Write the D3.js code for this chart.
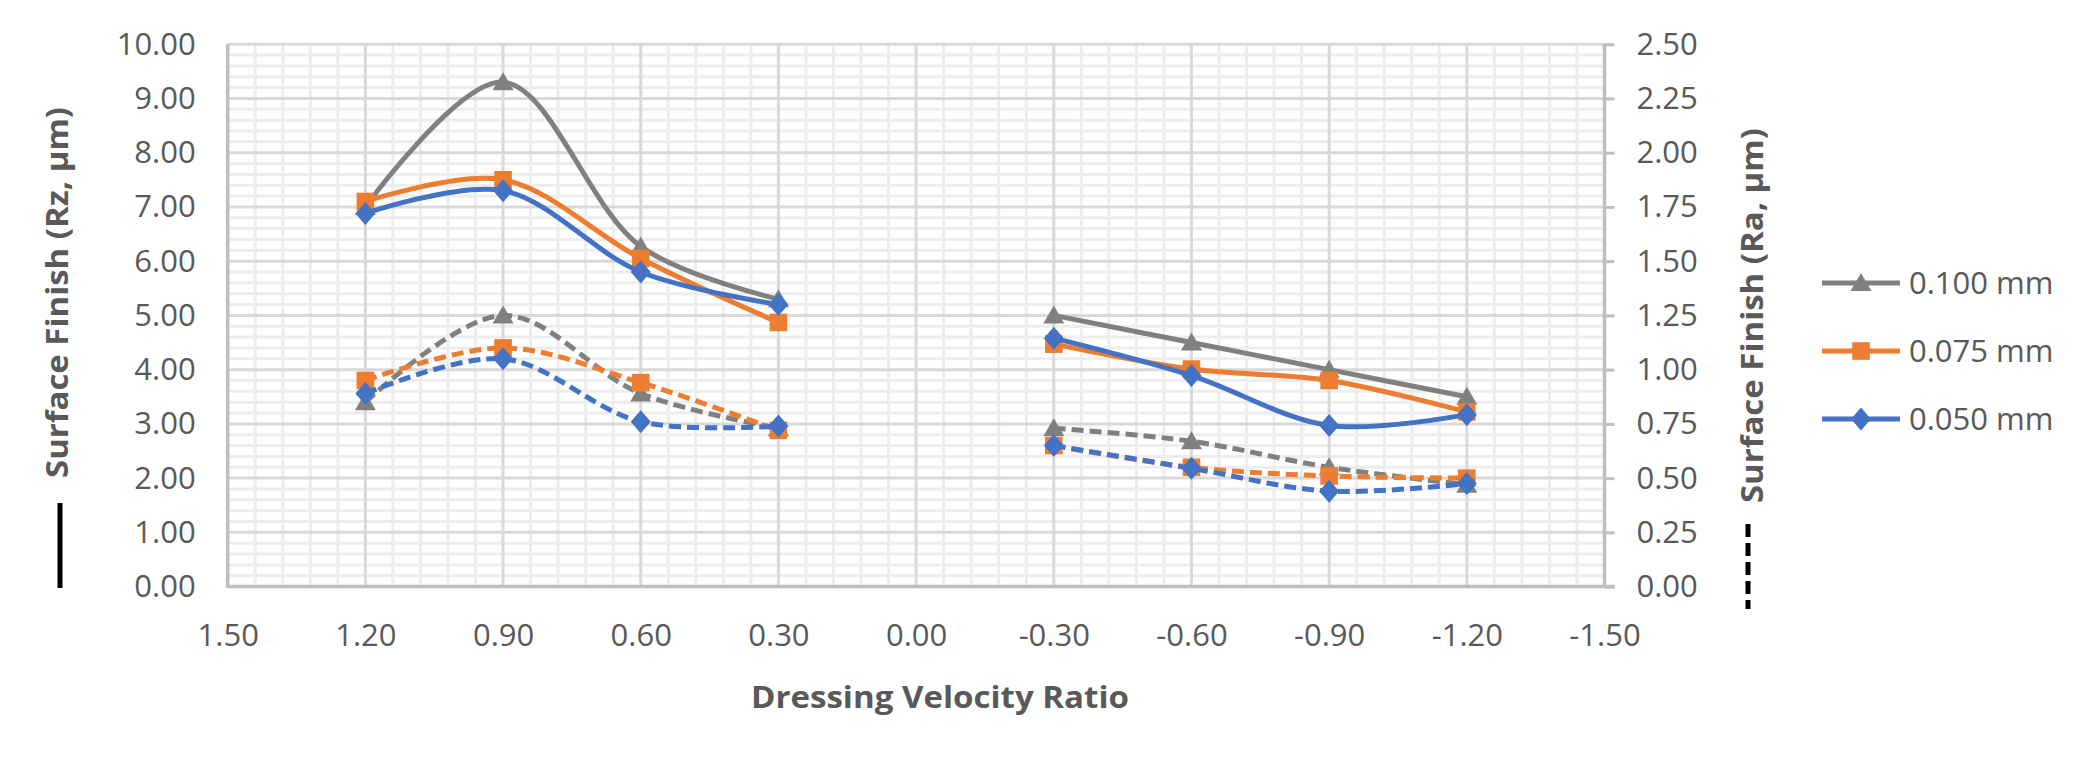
<!DOCTYPE html>
<html><head><meta charset="utf-8">
<script src="https://cdn.jsdelivr.net/npm/d3@7"></script>
<style>html,body{margin:0;padding:0;background:#fff;} svg{display:block;}</style>
</head><body>
<svg id="chart" width="2100" height="759"></svg>
<script>
// ---- data ----
const ratios = [1.2, 0.9, 0.6, 0.3, -0.3, -0.6, -0.9, -1.2];
const seriesNames = ["0.100 mm", "0.075 mm", "0.050 mm"];
const rz100 = [7.0, 9.3, 6.27, 5.3, 5.0, 4.5, 4.0, 3.5];
const rz075 = [7.1, 7.5, 6.05, 4.87, 4.47, 4.01, 3.8, 3.22];
const rz050 = [6.88, 7.3, 5.8, 5.2, 4.58, 3.89, 2.97, 3.17];
const ra100 = [0.85, 1.25, 0.89, 0.73, 0.73, 0.67, 0.55, 0.47];
const ra075 = [0.95, 1.10, 0.94, 0.72, 0.65, 0.55, 0.51, 0.50];
const ra050 = [0.89, 1.05, 0.76, 0.74, 0.65, 0.545, 0.44, 0.475];
const segments = [[0, 1, 2, 3], [4, 5, 6, 7]];
const xTickValues = [1.5, 1.2, 0.9, 0.6, 0.3, 0, -0.3, -0.6, -0.9, -1.2, -1.5];
const xTickLabels = ["1.50","1.20","0.90","0.60","0.30","0.00","-0.30","-0.60","-0.90","-1.20","-1.50"];
const yLeftTicks = [0,1,2,3,4,5,6,7,8,9,10];
const yLeftLabels = ["0.00","1.00","2.00","3.00","4.00","5.00","6.00","7.00","8.00","9.00","10.00"];
const yRightTicks = [0,0.25,0.5,0.75,1,1.25,1.5,1.75,2,2.25,2.5];
const yRightLabels = ["0.00","0.25","0.50","0.75","1.00","1.25","1.50","1.75","2.00","2.25","2.50"];
const xTitle = "Dressing Velocity Ratio";
const yLeftTitle = "Surface Finish (Rz, µm)";
const yRightTitle = "Surface Finish (Ra, µm)";

// ---- layout / style ----
const colors = ["#808080", "#ed7d31", "#4472c4"];
const shapes = ["triangle", "square", "diamond"];
const L = 227.7, R = 1604.5, T = 44.2, B = 586.6;
const FONT = "'Open Sans', 'Noto Sans', sans-serif";
const TXT = "#595959";

const svg = d3.select("#chart");
svg.append("rect").attr("width", 2100).attr("height", 759).attr("fill", "#fff");

const x = d3.scaleLinear().domain([1.5, -1.5]).range([L, R]);
const yL = d3.scaleLinear().domain([0, 10]).range([B, T]);
const yR = d3.scaleLinear().domain([0, 2.5]).range([B, T]);

// grid
const grid = svg.append("g");
const minorH = d3.range(0, 10.0001, 0.2).filter(v => Math.abs(v - Math.round(v)) > 1e-6);
const minorV = d3.range(-1.5, 1.5001, 0.06).filter(v => Math.abs(v / 0.3 - Math.round(v / 0.3)) > 1e-6);
grid.selectAll(".mh").data(minorH).join("line")
  .attr("x1", L).attr("x2", R).attr("y1", d => yL(d)).attr("y2", d => yL(d))
  .attr("stroke", "#ededed").attr("stroke-width", 3);
grid.selectAll(".mv").data(minorV).join("line")
  .attr("y1", T).attr("y2", B).attr("x1", d => x(d)).attr("x2", d => x(d))
  .attr("stroke", "#ededed").attr("stroke-width", 3);
grid.selectAll(".Mh").data(yLeftTicks.filter(d => d > 0)).join("line")
  .attr("x1", L).attr("x2", R).attr("y1", d => yL(d)).attr("y2", d => yL(d))
  .attr("stroke", "#d9d9d9").attr("stroke-width", 3);
grid.selectAll(".Mv").data(xTickValues.filter(d => d !== 1.5 && d !== -1.5)).join("line")
  .attr("y1", T).attr("y2", B).attr("x1", d => x(d)).attr("x2", d => x(d))
  .attr("stroke", "#d9d9d9").attr("stroke-width", 3);

// axes
function styleAxis(g) {
  g.attr("font-family", FONT).attr("font-size", 31);
  g.selectAll("text").attr("fill", TXT);
  g.select(".domain").remove();
}
const gx = svg.append("g").attr("transform", `translate(0,${B})`)
  .call(d3.axisBottom(x).tickValues(xTickValues).tickFormat((d, i) => xTickLabels[i]).tickSize(0).tickPadding(37));
styleAxis(gx);
const gyl = svg.append("g").attr("transform", `translate(${L},0)`)
  .call(d3.axisLeft(yL).tickValues(yLeftTicks).tickFormat((d, i) => yLeftLabels[i]).tickSize(0).tickPadding(32));
styleAxis(gyl);
const gyr = svg.append("g").attr("transform", `translate(${R},0)`)
  .call(d3.axisRight(yR).tickValues(yRightTicks).tickFormat((d, i) => yRightLabels[i]).tickSize(10).tickPadding(22));
styleAxis(gyr);
gyr.selectAll("line").attr("stroke", "#bfbfbf").attr("stroke-width", 3);

// axis lines
svg.append("line").attr("x1", L).attr("x2", L).attr("y1", T).attr("y2", B + 1.5).attr("stroke", "#bfbfbf").attr("stroke-width", 3.5);
svg.append("line").attr("x1", R).attr("x2", R).attr("y1", T).attr("y2", B + 1.5).attr("stroke", "#bfbfbf").attr("stroke-width", 3.5);
svg.append("line").attr("x1", L).attr("x2", R + 10).attr("y1", B).attr("y2", B).attr("stroke", "#bfbfbf").attr("stroke-width", 3.5);

// markers
function markerPath(shape) {
  if (shape === "triangle") return "M0,-10 L10.5,8 L-10.5,8 Z";
  if (shape === "square") return "M-8.8,-8.8 L8.8,-8.8 L8.8,8.8 L-8.8,8.8 Z";
  return "M0,-11.5 L10,0 L0,11.5 L-10,0 Z";
}

const line = d3.line().curve(d3.curveCatmullRom.alpha(0.5));
const plot = svg.append("g");
const allSeries = [
  {vals: rz100, s: 0, scale: yL, dash: null},
  {vals: rz075, s: 1, scale: yL, dash: null},
  {vals: rz050, s: 2, scale: yL, dash: null},
  {vals: ra100, s: 0, scale: yR, dash: "12,6"},
  {vals: ra075, s: 1, scale: yR, dash: "12,6"},
  {vals: ra050, s: 2, scale: yR, dash: "12,6"}
];
allSeries.forEach(ser => {
  const g = plot.append("g");
  segments.forEach(seg => {
    g.append("path")
      .attr("d", line(seg.map(i => [x(ratios[i]), ser.scale(ser.vals[i])])))
      .attr("fill", "none").attr("stroke", colors[ser.s]).attr("stroke-width", 5)
      .attr("stroke-linejoin", "round")
      .attr("stroke-dasharray", ser.dash);
  });
  g.selectAll(".m").data(ratios).join("path")
    .attr("d", markerPath(shapes[ser.s]))
    .attr("transform", (d, i) => `translate(${x(d)},${ser.scale(ser.vals[i])})`)
    .attr("fill", colors[ser.s]);
});

// axis titles
svg.append("text").text(xTitle)
  .attr("x", 940).attr("y", 708).attr("text-anchor", "middle")
  .attr("font-family", FONT).attr("font-weight", 700).attr("font-size", 31)
  .attr("fill", TXT).attr("textLength", 378).attr("lengthAdjust", "spacingAndGlyphs");
svg.append("text").text(yLeftTitle)
  .attr("transform", "translate(68,292.5) rotate(-90)").attr("text-anchor", "middle")
  .attr("font-family", FONT).attr("font-weight", 700).attr("font-size", 31)
  .attr("fill", TXT).attr("textLength", 371).attr("lengthAdjust", "spacingAndGlyphs");
svg.append("text").text(yRightTitle)
  .attr("transform", "translate(1763,315.6) rotate(-90)").attr("text-anchor", "middle")
  .attr("font-family", FONT).attr("font-weight", 700).attr("font-size", 31)
  .attr("fill", TXT).attr("textLength", 375).attr("lengthAdjust", "spacingAndGlyphs");
// line-style keys under the axis titles
svg.append("line").attr("x1", 60).attr("x2", 60).attr("y1", 503).attr("y2", 588)
  .attr("stroke", "#000").attr("stroke-width", 5);
svg.append("line").attr("x1", 1748).attr("x2", 1748).attr("y1", 524).attr("y2", 609)
  .attr("stroke", "#000").attr("stroke-width", 5).attr("stroke-dasharray", "13,6");

// legend
const legendY = [283, 351, 419];
const lg = svg.append("g");
seriesNames.forEach((name, i) => {
  const row = lg.append("g").attr("transform", `translate(0,${legendY[i]})`);
  row.append("line").attr("x1", 1822).attr("x2", 1900).attr("y1", 0).attr("y2", 0)
    .attr("stroke", colors[i]).attr("stroke-width", 5);
  row.append("path").attr("d", markerPath(shapes[i])).attr("transform", "translate(1861,0)").attr("fill", colors[i]);
  row.append("text").text(name).attr("x", 1909).attr("y", 0).attr("dy", "0.35em")
    .attr("font-family", FONT).attr("font-size", 31).attr("fill", TXT);
});
</script>
</body></html>
